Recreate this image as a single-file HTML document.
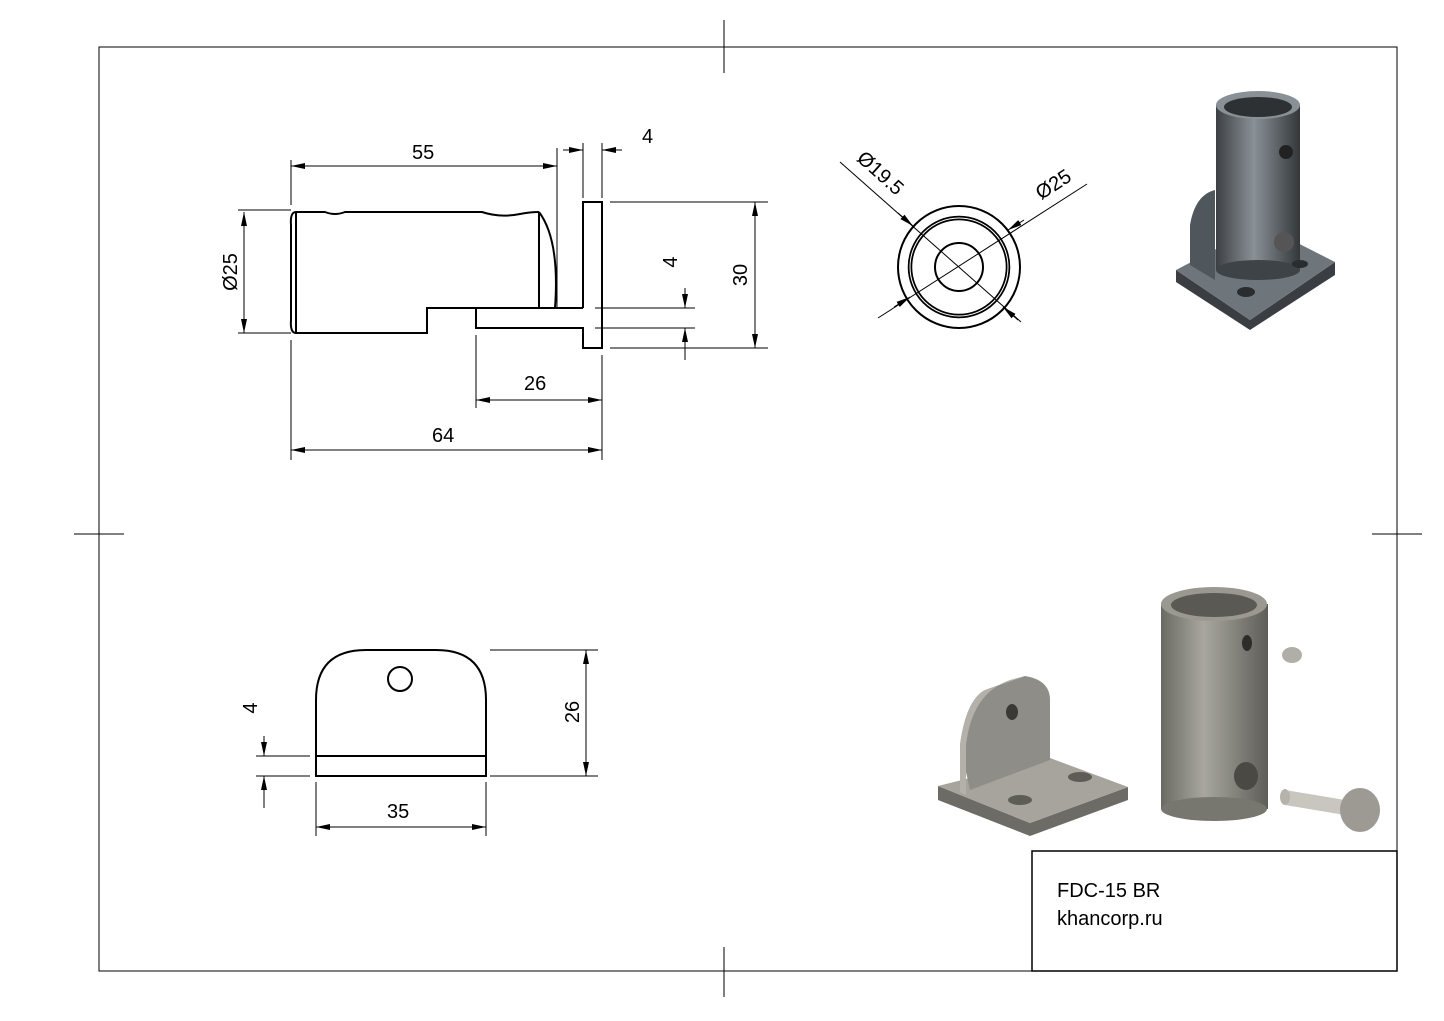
<!DOCTYPE html>
<html><head><style>body{margin:0;background:#fff}svg{display:block}text{font-family:"Liberation Sans",sans-serif;font-size:20px;fill:#000}</style></head>
<body>
<svg width="1444" height="1021" viewBox="0 0 1444 1021">
<defs>
<marker id="a" viewBox="0 0 14 6" refX="14" refY="3" markerWidth="14" markerHeight="6" orient="auto-start-reverse" markerUnits="userSpaceOnUse"><path d="M0,0 L14,3 L0,6z" fill="#000"/></marker>
<linearGradient id="g" x1="0" x2="1"><stop offset="0" stop-color="#6a6a64"/><stop offset=".4" stop-color="#a8a79f"/><stop offset="1" stop-color="#5e5d58"/></linearGradient>
<linearGradient id="g2" x1="0" x2="1"><stop offset="0" stop-color="#3c4044"/><stop offset=".45" stop-color="#8a9196"/><stop offset="1" stop-color="#33373a"/></linearGradient>
</defs>
<g stroke="#000" fill="none" stroke-width="1">
<rect x="99" y="47" width="1298" height="924"/>
<path d="M724 20V73M724 947V997M74 534H124M1372 534H1422"/>
<rect x="1032" y="851" width="365" height="120" stroke-width="1.5"/>
</g>
<text x="1057" y="897">FDC-15 BR</text>
<text x="1057" y="925">khancorp.ru</text>

<!-- side view -->
<g stroke="#000" fill="none" stroke-width="2">
<path d="M296 212 Q290 212 291 225 V320 Q290 333 296 333 H427 V308 H539 V212"/>
<path d="M296 212 H325 Q335 216 345 212 H482 Q500 218 520 214 Q530 212 539 212 H539"/>
<path d="M296 212 V333"/>
<path d="M539 212 Q560 240 555 308"/>
<path d="M539 308 H583"/>
<path d="M476 308 V328 H583 V348 H602 V202 H583 V308"/>
</g>
<g stroke="#000" stroke-width="1" fill="none">
<path d="M291 205 V160 M557 308 V148 M583 198 V143 M602 198 V143"/>
<line x1="291" y1="166" x2="557" y2="166" marker-start="url(#a)" marker-end="url(#a)"/>
<line x1="563" y1="150" x2="583" y2="150" marker-end="url(#a)"/>
<line x1="622" y1="150" x2="602" y2="150" marker-end="url(#a)"/>
<path d="M291 210 H238 M291 333 H238"/>
<line x1="244" y1="212" x2="244" y2="333" marker-start="url(#a)" marker-end="url(#a)"/>
<path d="M595 308 H695 M595 328 H695 M610 202 H768 M610 348 H768"/>
<line x1="685" y1="288" x2="685" y2="308" marker-end="url(#a)"/>
<line x1="685" y1="360" x2="685" y2="328" marker-end="url(#a)"/>
<line x1="755" y1="202" x2="755" y2="348" marker-start="url(#a)" marker-end="url(#a)"/>
<path d="M476 335 V408 M602 355 V460 M291 340 V460"/>
<line x1="476" y1="400" x2="602" y2="400" marker-start="url(#a)" marker-end="url(#a)"/>
<line x1="291" y1="450" x2="602" y2="450" marker-start="url(#a)" marker-end="url(#a)"/>
</g>
<text x="412" y="159">55</text>
<text x="642" y="143">4</text>
<text x="524" y="390">26</text>
<text x="432" y="442">64</text>
<text transform="translate(237,272) rotate(-90)" text-anchor="middle">Ø25</text>
<text transform="translate(677,262) rotate(-90)" text-anchor="middle">4</text>
<text transform="translate(747,275) rotate(-90)" text-anchor="middle">30</text>

<!-- top view circles -->
<g stroke="#000" fill="none">
<circle cx="959" cy="267" r="61" stroke-width="2"/>
<circle cx="959" cy="267" r="49" stroke-width="4.5"/>
<circle cx="959" cy="267" r="49" stroke="#fff" stroke-width="1"/>
<circle cx="959" cy="267" r="24" stroke-width="2"/>
<line x1="840" y1="162" x2="1021" y2="322" stroke-width="1"/>
<line x1="878" y1="318" x2="1087" y2="184" stroke-width="1"/>
<line x1="898" y1="213" x2="913" y2="226" marker-end="url(#a)"/>
<line x1="1018" y1="320" x2="1003" y2="307" marker-end="url(#a)"/>
<line x1="1024" y1="220" x2="1008" y2="230" marker-end="url(#a)"/>
<line x1="894" y1="307" x2="910" y2="297" marker-end="url(#a)"/>
</g>
<text transform="translate(876,178) rotate(42)" text-anchor="middle">Ø19.5</text>
<text transform="translate(1057,190) rotate(-33)" text-anchor="middle">Ø25</text>

<!-- bottom view -->
<g stroke="#000" fill="none" stroke-width="2">
<path d="M316 776 V700 Q316 650 366 650 H436 Q486 650 486 700 V776 Z"/>
<path d="M316 756 H486"/>
<circle cx="400" cy="679" r="12"/>
</g>
<g stroke="#000" stroke-width="1" fill="none">
<path d="M490 650 H598 M490 776 H598 M310 756 H256 M310 776 H256 M316 782 V836 M486 782 V836"/>
<line x1="586" y1="650" x2="586" y2="776" marker-start="url(#a)" marker-end="url(#a)"/>
<line x1="316" y1="827" x2="486" y2="827" marker-start="url(#a)" marker-end="url(#a)"/>
<line x1="264" y1="736" x2="264" y2="756" marker-end="url(#a)"/>
<line x1="264" y1="808" x2="264" y2="776" marker-end="url(#a)"/>
</g>
<text transform="translate(579,712) rotate(-90)" text-anchor="middle">26</text>
<text x="387" y="818">35</text>
<text transform="translate(257,708) rotate(-90)" text-anchor="middle">4</text>

<!-- 3D top right -->
<g>
<path d="M1176 270 L1250 320 L1335 262 L1335 275 L1250 330 L1176 282Z" fill="#3a3e42"/>
<path d="M1176 270 L1250 320 L1335 262 L1262 225 Z" fill="#6e767c"/>
<path d="M1190 265 V225 Q1195 195 1215 190 V280Z" fill="#50575c"/>
<rect x="1216" y="105" width="84" height="165" fill="url(#g2)"/>
<ellipse cx="1258" cy="270" rx="42" ry="10" fill="#3e4347"/>
<ellipse cx="1258" cy="105" rx="42" ry="14" fill="#8a9196"/>
<ellipse cx="1258" cy="107" rx="34" ry="10" fill="#2e3134"/>
<circle cx="1286" cy="152" r="7" fill="#222"/>
<circle cx="1284" cy="242" r="10" fill="#555"/>
<ellipse cx="1246" cy="292" rx="9" ry="5" fill="#2a2d30"/>
<ellipse cx="1300" cy="264" rx="8" ry="4" fill="#2a2d30"/>
</g>
<!-- 3D bottom right -->
<g>
<path d="M938 786 L1030 823 L1128 787 L1128 800 L1030 836 L938 800Z" fill="#6d6b66"/>
<path d="M938 786 L1030 823 L1128 787 L1050 758 Z" fill="#a6a49d"/>
<path d="M960 745 Q966 700 985 690 L1025 676 Q1050 680 1050 700 V760 L970 790 Z" fill="#8f8d87"/>
<path d="M960 745 Q966 700 985 690 L1025 676 L1010 680 Q972 693 966 745 V795 L960 792Z" fill="#b3b1aa"/>
<ellipse cx="1012" cy="712" rx="6" ry="8" fill="#3a3935"/>
<ellipse cx="1020" cy="800" rx="12" ry="5" fill="#5e5c57"/>
<ellipse cx="1080" cy="777" rx="12" ry="5" fill="#5e5c57"/>
<rect x="1161" y="604" width="107" height="205" fill="url(#g)"/>
<ellipse cx="1214" cy="809" rx="53" ry="12" fill="#77766f"/>
<ellipse cx="1214" cy="604" rx="53" ry="17" fill="#9a9891"/>
<ellipse cx="1214" cy="605" rx="43" ry="12" fill="#5a5954"/>
<ellipse cx="1247" cy="643" rx="5" ry="8" fill="#2e2d2a"/>
<ellipse cx="1246" cy="776" rx="12" ry="14" fill="#4a4944"/>
<ellipse cx="1292" cy="655" rx="10" ry="8" fill="#b0aea6"/>
<path d="M1285 790 L1345 800 L1345 815 L1285 805Z" fill="#c8c6bf"/>
<ellipse cx="1285" cy="797" rx="5" ry="8" fill="#b5b3ac"/>
<ellipse cx="1360" cy="810" rx="20" ry="22" fill="#9c9a93"/>
</g>
</svg>
</body></html>
